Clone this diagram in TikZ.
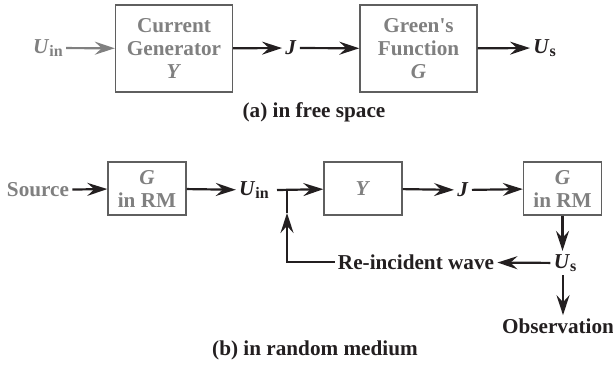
\documentclass[tikz,border=0pt]{standalone}
\usepackage{fontspec}
\setmainfont{Liberation Serif}
\usetikzlibrary{arrows.meta}
\definecolor{txtgray}{RGB}{128,128,128}
\definecolor{boxgray}{RGB}{95,95,95}
\definecolor{ink}{RGB}{35,31,32}
\tikzset{
  block/.style={draw=boxgray, line width=0.7pt, text=txtgray, align=center, inner sep=0pt},
  bigblock/.style={block, minimum width=58.5pt, minimum height=43.5pt},
  smallblock/.style={block, minimum width=39pt, minimum height=26.5pt},
  arr/.style={-{Stealth[length=10pt,width=6.5pt,inset=3.5pt]}, line width=1.1pt, draw=ink},
  lbl/.style={inner sep=1.5pt, text=ink},
}
\newcommand{\Uin}{\textit{U}\raisebox{-0.35ex}{\fontsize{8}{8}\selectfont in}}
\newcommand{\Us}{\textit{U}\raisebox{-0.35ex}{\fontsize{8}{8}\selectfont s}}
\begin{document}
\begin{tikzpicture}[x=0.5pt, y=-0.5pt, font=\fontsize{10.6}{11.5}\selectfont\bfseries]
    \useasboundingbox (0,0) rectangle (613,365);

    % (a) free space
    \node[lbl, text=txtgray] (uin) at (48,48) {\Uin};
    \node[bigblock] (gen) at (174,48.5) {Current\\Generator\\\textit{Y}};
    \node[lbl] (j) at (291,48) {\textit{J}};
    \node[bigblock] (green) at (418.5,48.5) {Green\textquotesingle s\\Function\\\textit{G}};
    \node[lbl, anchor=west] (us) at (530,48) {\Us};
    \node[lbl] (capa) at (314,112) {(a) in free space};

    \draw[arr, draw=txtgray] (uin) -- (gen);
    \draw[arr] (gen) -- (j);
    \draw[arr] (j) -- (green);
    \draw[arr] (green) -- (us);

    % (b) random medium
    \node[lbl, text=txtgray] (src) at (38,190) {Source};
    \node[smallblock] (grm) at (147,188.5) {\textit{G}\\in RM};
    \node[lbl] (uinb) at (254,190) {\Uin};
    \node[smallblock] (ybox) at (363,188.5) {\textit{Y}};
    \node[lbl] (jb) at (463,190) {\textit{J}};
    \node[smallblock] (grmb) at (562.5,188.5) {\textit{G}\\in RM};
    \node[lbl] (usb) at (565,263) {\Us};
    \node[lbl] (reinc) at (416,262) {Re-incident wave};
    \node[lbl] (obs) at (558,326) {Observation};
    \node[lbl] (capb) at (315,350) {(b) in random medium};

    \coordinate (stub) at (277,190);
    \coordinate (join) at (287,190);
    \coordinate (tipc) at (287,213);

    \draw[arr] (src) -- (grm);
    \draw[arr] (grm) -- (uinb);
    \draw[arr] (stub) -- (ybox);
    \draw[arr] (ybox) -- (jb);
    \draw[arr] (jb) -- (grmb);
    \draw[arr] (grmb.south) -- (grmb.south |- usb.north);
    \draw[arr] (usb) -- (reinc);
    \draw[arr] ([xshift=-1pt]usb.south) -- ([xshift=-1pt]usb.south |- obs.north);
    % feedback loop
    \draw[arr] (reinc.west) -| (tipc);
    \draw[line width=1.1pt, draw=ink] (tipc) -- (join);
\end{tikzpicture}
\end{document}
